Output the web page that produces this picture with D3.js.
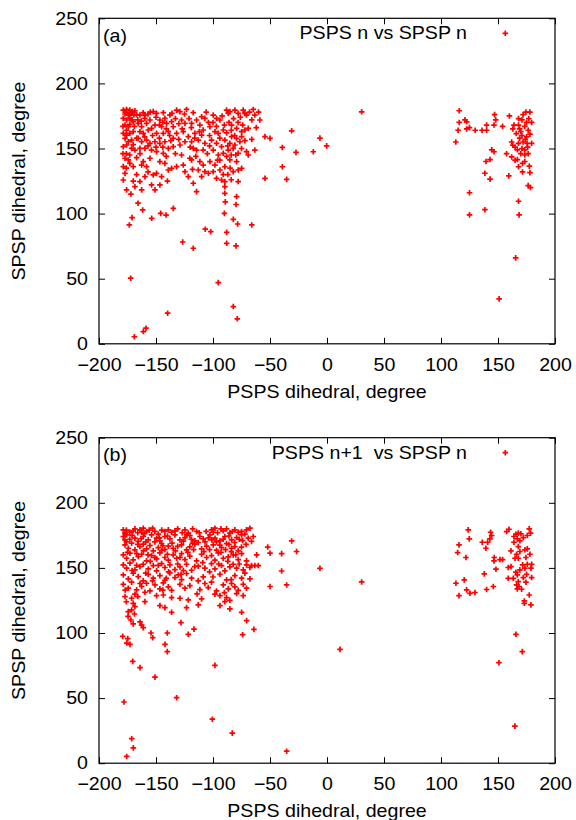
<!DOCTYPE html>
<html lang="en">
<head>
	<meta charset="utf-8">
	<title>PSPS vs SPSP dihedral</title>
	<script src="https://d3js.org/d3.v7.min.js"></script>
	<style>
		body { margin: 0; background: #fff; }
	</style>
</head>
<body>
	<div id="chart"></div>
	<script>
		// tick values shared by both panels
		let xTicks = [-200, -150, -100, -50, 0, 50, 100, 150, 200];
		let yTicks = [0, 50, 100, 150, 200, 250];

		// panel (a): PSPS n vs SPSP n, [PSPS, SPSP] in degrees
		let seriesA = [
			[-178.7,179.5],[-175.8,180],[-172.9,179.5],[-170.5,178.3],[-168.5,179],[-177.2,176.5],[-174.3,175.7],[-171.4,177],[-169.4,175.7],
			[-178.7,173.1],[-175.8,171.9],[-172.9,173.1],[-170,170.6],[-177.2,168],[-174.3,166.7],[-178.7,161.6],[-175.8,160.3],[-172.9,161.6],
			[-170,162.9],[-177.2,157.8],[-174.3,155.2],[-171.4,156.5],[-178.7,151.4],[-175.8,152.7],[-171.4,150.1],[-168.5,148.8],[-177.2,142.5],
			[-174.3,141.2],[-178.7,136.1],[-172.9,138.6],[-177.2,130.9],[-178.7,125.8],[-175.8,118.2],[-170,136.1],
			[-164.1,175.7],[-161.2,177.5],[-159.7,173.1],[-165.6,169.3],[-162.6,166.7],[-158.3,169.3],[-155.3,171.9],[-164.1,162.9],[-161.2,161.6],
			[-156.8,164.2],[-153.9,165.5],[-165.6,157.8],[-162.6,155.2],[-158.3,156.5],[-155.3,154],[-164.1,150.1],[-159.7,150.1],[-153.9,148.8],
			[-161.2,139.9],[-158.3,136.1],[-162.6,137.3],[-155.3,142.5],[-159.7,128.4],[-164.1,124.6],[-162.6,118.2],[-168.5,120.7],
			[-152.4,178.3],[-149.5,177],[-143.6,177.5],[-146.6,171.9],[-142.2,173.1],[-150.9,168],[-145.1,166.7],[-140.7,169.3],[-149.5,161.6],
			[-143.6,161.6],[-139.2,162.9],[-150.9,155.2],[-146.6,154],[-142.2,155.2],[-149.5,147.6],[-143.6,146.3],[-139.2,150.1],[-146.6,139.9],
			[-142.2,138.6],[-139.2,133.5],[-149.5,130.9],[-152.4,129.7],[-145.1,128.4],[-153.9,122],[-150.9,118.2],[-146.6,122],
			[-137.8,175.7],[-136.3,170.6],[-131.9,179.5],[-129,178.3],[-123.2,180],[-134.9,166.7],[-127.6,171.9],[-124.6,169.3],[-131.9,161.6],
			[-134.9,157.8],[-126.1,162.9],[-124.6,155.2],[-121.7,159.1],[-134.9,151.4],[-129,152.7],[-127.6,145],[-136.3,134.8],[-131.9,136.1],
			[-126.1,137.3],[-120.3,142.5],[-118.8,141.2],[-124.6,132.2],[-121.7,128.4],[-117.3,123.3],
			[-117.3,177.5],[-114.4,171.9],[-118.8,169.3],[-110,174.4],[-107.1,173.1],[-111.5,168],[-108.6,164.2],[-115.9,161.6],[-110,160.3],
			[-118.8,155.2],[-112.9,156.5],[-107.1,154],[-117.3,150.1],[-114.4,148.8],[-108.6,148.8],[-111.5,139.9],[-108.6,137.3],[-112.9,133.5],
			[-107.1,132.2],[-110,128.4],[-114.4,116.9],
			[-99.8,175.7],[-96.9,173.1],[-93.9,171.9],[-102.7,166.7],[-98.3,162.9],[-95.4,161.6],[-91,164.2],[-101.3,156.5],[-96.9,154],
			[-92.5,151.4],[-89.6,156.5],[-99.8,148.8],[-95.4,145],[-91,146.3],[-102.7,139.9],[-98.3,137.3],[-93.9,133.5],[-89.6,136.1],
			[-99.8,132.2],[-96.9,127.1],[-92.5,125.8],[-89.6,124.6],
			[-88.1,179.5],[-86.6,177],[-85.2,178.3],[-80.8,179.5],[-77.9,177],[-73.5,179.5],[-70.6,175.7],[-64.7,180],[-63.3,175.7],[-58.9,171.9],
			[-83.7,168],[-79.3,165.5],[-74.9,162.9],[-72,164.2],[-69.1,165.5],[-83.7,159.1],[-79.3,157.8],[-74.9,159.1],[-85.2,154],[-80.8,152.7],
			[-76.4,155.2],[-86.6,148.8],[-82.3,150.1],[-77.9,146.3],[-70.6,147.6],[-69.1,145],[-63.3,148.8],[-85.2,141.2],[-79.3,139.9],
			[-74.9,134.8],[-77.9,133.5],[-82.3,132.2],[-89.6,120.7],[-89.6,115.6],[-79.3,113.1],[-77.9,124.6],
			// denser core of the left cluster
			[-176.5,178],[-173.5,176.5],[-171,172],[-167,176],[-179,167],[-176,164],[-173,168.5],[-169,167],[-166,172],[-163,171],
			[-160,175.5],[-157,176.5],[-155,178],[-150,174],[-147,168],[-144,170],[-141,165],[-138,160],[-136,177],[-133,173],
			[-130,169],[-127,165],[-125,176.5],[-121,173],[-119,166],[-116,158],[-112,163],[-106,178],[-104,170],[-103,160],
			[-100,170],[-97,167],[-94,158],[-92,175],[-90,168],[-88,162],[-87,152],[-86,170],[-84,164],[-82,173],
			[-81,160],[-78,170],[-76,174],[-74,168],[-72,177],[-68,178],[-66,172],[-62,166],[-60,178],[-176,146],
			[-173,145],[-170,153],[-167,158],[-167,143],[-164,146],[-160,159],[-157,152],[-153,160],[-150,151],[-147,158],
			[-144,151],[-141,144],[-137,156],[-133,146],[-130,157],[-120,151],[-115,144],[-105,146],[-103,152],[-94,141],
			[-88,144],[-84,145],[-80,145],[-75,150],[-72,156],[-66,157],[-85,135],[-87,130],[-84,126],[-91,130],
			[-96,141],[-104,131],[-118,134],[-140,125],[-157,132],[-167,130],[-176,135],[-179,146],[-172,115],[-170,125],
			// sparse lower points
			[-173.4,91.3],[-171,96.9],[-165.8,108],[-161.7,102.8],[-153.8,96.4],[-145.9,100.2],[-141.2,98.9],[-134.8,104],[-126.6,78.2],
			[-117.3,73.4],[-106.8,88],[-102,86.1],[-90,100.2],[-89.2,109],[-88,85.6],[-88,77.2],[-82.2,95.6],[-79.8,107],[-79.8,75.2],
			[-78.4,92],[-66,91.3],[-172.2,50.4],[-95.4,47],[-82.2,28.6],[-78.7,19.2],[-139.8,23.5],[-169,5.4],[-161.1,9.4],[-158.8,12],
			[-54.4,159.1],[-50,157.8],[-54.4,127.1],[-39.2,150.8],[-31,163.6],[-27.2,147],[-39.2,136],[-35.4,126.3],[-12,147.5],[-6.2,158],
			[-0.3,152],[30.4,178.2],
			// right cluster
			[116,179],[116,170],[115,164],[113,155],[121,172],[122.5,170.5],[122.5,165],[125,166],[130,164],[136,164],[140,164],[140,168],
			[147,176],[148,172],[146.5,168],[154,167],[160,175],[163,165],[164,168],[168,173],[171,172],[174.5,178],[178,178],[177,173],
			[179.5,170],[168,168],[169,165],[173.5,167],[176.5,164],[166,161.5],[171,160],[175,159],[162,155],[163,152.5],[168,154],[172,155],
			[175.5,154],[179.5,154],[167,149],[171,150],[173.5,149],[176.5,146],[173.5,145],[157.5,146],[162,143.5],[165,141],[167,141.5],
			[171.5,138.5],[173.5,140],[177.5,136.5],[171.5,132],[178,131.5],[144.5,149],[146.5,147.5],[143,141.5],[139.5,140],[138.5,131],
			[143,126.5],[159.5,129],[176.5,121.5],[178.5,120],[125,116],[168,109.5],[138.5,103],[125,99],[168.5,99],[165.5,66],[151,34.5],
			[170,163],[174,157],[169,158],[178,161],[165,151],[176,151],[170,146],[168,136],[175,170],[172,176]
		];

		// panel (b): PSPS n+1 vs SPSP n
		let seriesB = [
			[-178.7,179.2],[-177.2,176.7],[-170,178.5],[-168.5,180],[-164.1,179.2],[-162.6,177.4],[-161.2,180.5],[-158.3,178],[-153,180.5],
			[-142.2,178],[-139.2,179.2],[-136.3,177.4],[-133.4,178.5],[-124.6,179.2],[-121.7,176.7],[-117.9,180],[-114.4,178],[-101.3,179.2],
			[-99.8,177.4],[-98.3,180.5],[-91,178.5],[-88.1,180],[-85.2,176.7],[-80.8,179.2],[-77.9,177.4],[-70.6,179.2],[-67.6,180.5],
			[-178.7,174.1],[-177.2,171.5],[-175.8,175.4],[-168.5,172.8],[-165.6,170.3],[-161.2,174.1],[-156.8,171.5],[-153.9,175.4],[-149.5,172.8],
			[-146.6,170.8],[-142.2,174.1],[-137.8,172.3],[-133.4,175.4],[-129,171.5],[-124.6,173.3],[-120.3,174.9],[-115.9,170.8],[-111.5,174.1],
			[-108.6,172.3],[-102.7,175.4],[-98.3,172.8],[-93.9,170.8],[-89.6,174.1],[-83.7,171.5],[-79.3,173.3],[-74.9,175.4],[-69.1,172.8],
			[-66.2,170.3],[-64.7,174.1],
			[-177.2,167.7],[-174.3,165.1],[-171.4,169],[-168.5,163.9],[-164.1,166.4],[-161.2,168.2],[-158.3,164.6],[-155.3,167.2],[-152.4,163.1],
			[-148,165.6],[-145.1,168.7],[-142.2,164.1],[-139.2,166.7],[-134.9,165.1],[-127.6,167.7],[-123.2,163.9],[-120.3,166.2],[-115.9,168.2],
			[-110,164.6],[-105.6,166.7],[-99.8,167.7],[-96.9,163.6],[-92.5,165.6],[-88.1,168.7],[-83.7,165.1],[-80.8,166.4],[-77.9,163.1],
			[-178.7,160],[-175.8,157.4],[-172.9,161.3],[-170,156.2],[-165.6,158.7],[-162.6,160.5],[-158.3,155.4],[-153.9,159.5],[-149.5,156.9],
			[-146.6,161.5],[-142.2,158],[-139.2,155.9],[-134.9,160],[-131.9,157.4],[-127.6,161],[-124.6,156.4],[-120.3,159],[-114.4,155.4],
			[-110,160.5],[-105.6,158],[-101.3,159.5],[-98.3,155.9],[-95.4,161.5],[-91,157.4],[-86.6,158.5],[-82.3,160],[-77.9,156.4],
			[-74.9,161],[-70.6,155.4],[-66.2,151.8],[-63.3,151.8],[-60.3,151.8],
			[-178.7,152.3],[-175.8,149.8],[-172.9,153.6],[-168.5,148.5],[-164.1,151],[-161.2,152.8],[-156.8,149.2],[-152.4,151.8],[-149.5,147.7],
			[-145.1,153.3],[-142.2,150.3],[-137.8,152.3],[-133.4,148.7],[-129,150.8],[-123.2,152.8],[-118.8,148.2],[-112.9,151.3],[-107.1,149.8],
			[-101.3,153.3],[-98.3,149.2],[-92.5,151.8],[-89.6,147.7],[-85.2,150.8],[-82.3,152.8],[-79.3,149.8],[-73.5,148.5],[-70.6,152.3],
			[-67.6,150.3],
			[-178.7,144.6],[-174.3,141.6],[-170,145.9],[-165.6,143.3],[-161.2,140],[-156.8,145.1],[-152.4,142.1],[-146.6,144.1],[-142.2,140.5],
			[-137.8,146.2],[-133.4,142.6],[-130.5,144.6],[-127.6,141],[-123.2,145.7],[-118.8,142.1],[-108.6,143.1],[-93.9,145.1],[-88.1,140.8],
			[-80.8,144.1],[-74.9,142.1],[-67.6,141.6],
			[-178.7,137.4],[-174.3,134.4],[-171.4,139],[-167,133.1],[-162.6,135.7],[-158.3,138.2],[-155.3,132.3],[-150.9,136.9],[-146.6,133.9],
			[-143.6,138.5],[-139.2,135.4],[-136.3,132.8],[-129,137.4],[-124.6,134.4],[-120.3,136.4],[-111.5,133.3],[-107.1,138],[-104.2,134.9],
			[-101.3,139],[-96.9,132.3],[-91,136.9],[-86.6,133.9],[-83.7,138],[-80.8,135.4],[-77.9,132.8],[-73.5,137.4],[-70.6,134.4],
			[-177.2,128],[-171.4,126.7],[-168.5,129.8],[-159.7,131.3],[-149.5,128.7],[-143.6,129.2],[-136.3,127.2],[-129,126.7],[-121.7,125.4],
			[-110,126.2],[-98.3,129.8],[-93.9,128.7],[-88.1,127.2],[-85.2,125.1],[-79.3,130.3],[-73.5,128.7],
			[-174.3,116.4],[-170,122.8],[-168.5,120.3],[-171.4,117.7],[-159.7,124.1],[-146.6,121],[-142.2,119.5],[-136.3,115.9],[-123.2,119.5],
			[-112.9,121.6],[-93.9,121],[-89.6,124.1],[-85.2,118.5],[-74.9,115.9],
			[-174.5,112.8],[-168.9,114.6],
			// denser core of the left cluster
			[-176,179],[-173,177.5],[-171,175],[-166,177],[-160,176.5],[-156,179],[-151,178],[-148,176],[-145,179],[-140,174.5],
			[-131,180],[-127,177],[-123,175.5],[-119,172],[-112,177],[-106,178],[-104,173],[-96,177],[-93,180],[-86,174.5],
			[-83,178],[-75,178],[-72,176],[-176,170],[-173,172],[-166,168],[-163,172.5],[-159,170],[-151,170],[-147,173],
			[-144,167],[-136,169],[-131,166.5],[-126,170.5],[-118,169],[-113,169.5],[-107,170],[-101,171.5],[-97,170],[-94,167.5],
			[-91,172],[-86,168],[-81,169.5],[-77,172],[-74,171],[-71,168],[-175,162],[-167,161],[-161,163],[-157,160],
			[-151,158],[-145,163.5],[-140,160.5],[-133,163],[-129,158],[-122,162],[-117,164],[-108,162.5],[-103,164],[-93,162],
			[-89,164],[-84,162.5],[-80,160],[-75,166],[-171,148],[-167,152],[-159,146],[-155,155],[-148,152],[-139,147],
			[-131,153],[-126,148],[-116,151],[-109,154],[-103,147],[-95,153],[-87,155],[-77,153],[-72,146],[-164,138],
			[-153,140],[-141,142],[-128,145],[-113,140],[-100,143],[-84,141],[-177,133],[-166,128],[-144,133],[-114,130],
			[-90,131],[-176,124],[-172,110],[-170,107],
			// sparse lower points
			[-179.2,97.4],[-174.8,95.7],[-175.7,92.3],[-172.8,91.3],[-170.4,78.2],[-164,73.4],[-164,108.5],[-162.6,106],[-161.2,104.1],
			[-154.4,100],[-152.9,96.4],[-150.9,66.1],[-142.1,91.3],[-140.1,100],[-140.1,85.7],[-128.1,108],[-121.7,99],[-116.7,103],
			[-131.9,50.3],[-178.1,47],[-171.3,18.8],[-169.9,11.8],[-175.7,5.2],[-98.3,75.1],[-100.6,33.8],[-83.1,23.1],[-35.4,9.2],
			[-74,98.7],[-70.5,109.5],[-64.1,102.8],
			[-61.7,160],[-52,166],[-50,161.3],[-39.8,161],[-31,170.7],[-26.7,162.6],[-39.8,147.6],[-6.2,149.7],[-50,135.7],[-35.4,136.9],
			[30.4,139.2],[11.4,87.4],
			// right cluster
			[123.9,179.2],[124.8,172.3],[115.8,167.7],[114.6,161.8],[121.9,158],[113.1,138.2],[120.4,140.8],[115.8,128.7],[122.5,133.1],
			[125.4,130.5],[129.8,131.1],[138,145.4],[140,133.4],[145.9,135.7],[136.2,169.7],[140.9,169.7],[142.9,172.3],[143.5,177.4],
			[144.4,174.9],[139.4,165.1],[146.7,158],[146.5,155.4],[151.7,156.4],[154,156.4],[148.2,149],[157.6,177.9],[159.6,179.7],
			[164,174.1],[165.7,175.9],[167.8,176.7],[170.1,176.2],[166.9,172.3],[164,169.7],[169.2,170.8],[172.2,173.3],[177.4,180],
			[178.6,176.7],[175.7,174.9],[167.8,166.4],[161.4,163.1],[169.2,162.6],[173.6,163.9],[175.7,164.6],[178,160.5],[166.3,160.5],
			[164.9,157.4],[167.8,157.4],[174.5,158],[171.6,152.3],[175.7,152.8],[179.5,152.8],[173.6,149.8],[178.9,149.8],[159,150.3],
			[161.4,151],[169.2,148.5],[165.7,146.7],[166.9,144.6],[175.1,145.1],[172.2,142.6],[179.5,142.6],[159,142],[163.4,142],
			[167.8,139.5],[174.5,139],[166.3,136.9],[168.4,135.7],[170.7,133.6],[166.9,133.9],[177.4,129.2],[173.1,124.6],[173.1,122.8],
			[178.9,121.6],[165.7,99],[171.3,85.7],[150.8,77.2],[164.8,28.5]
		];

		let panels = [
			{ data: seriesA, top: 18.3, tag: "(a)", legend: "PSPS n vs SPSP n" },
			{ data: seriesB, top: 437.7, tag: "(b)", legend: "PSPS n+1\u00a0 vs SPSP n" }
		];

		let width = 576;
		let height = 820;
		let plotLeft = 99;
		let plotRight = 555;
		let plotHeight = 325.5;
		let font = "'Liberation Sans', Arial, Helvetica, sans-serif";
		let fontSize = 18;
		let stretch = 1.09; // the reference lettering runs a bit wider than Arial

		let svg = d3.select("#chart")
			.append("svg")
			.attr("width", width)
			.attr("height", height)
			.style("font-family", font);

		function plusPath(s) {
			return "M" + (-s) + ",0H" + s + "M0," + (-s) + "V" + s;
		}

		function label(x, y, str, anchor, rotate) {
			return svg.append("text")
				.attr("transform", "translate(" + x + "," + y + ")" + (rotate ? " rotate(" + rotate + ")" : "") + " scale(" + stretch + ",1)")
				.attr("text-anchor", anchor)
				.attr("font-size", fontSize)
				.attr("fill", "#000")
				.text(str);
		}

		function drawPanel(p) {
			let bottom = p.top + plotHeight;
			let x = d3.scaleLinear().domain([-200, 200]).range([plotLeft, plotRight]);
			let y = d3.scaleLinear().domain([0, 250]).range([bottom, p.top]);

			// bottom axis with labels, ticks pointing inward
			let gx = svg.append("g")
				.attr("transform", "translate(0," + bottom + ")")
				.call(d3.axisBottom(x).tickValues(xTicks).tickSizeInner(-6).tickSizeOuter(0).tickPadding(14));
			// top mirror ticks
			let gxt = svg.append("g")
				.attr("transform", "translate(0," + p.top + ")")
				.call(d3.axisTop(x).tickValues(xTicks).tickSizeInner(-6).tickSizeOuter(0).tickFormat(""));
			// left axis with labels
			let gy = svg.append("g")
				.attr("transform", "translate(" + plotLeft + ",0)")
				.call(d3.axisLeft(y).tickValues(yTicks).tickSizeInner(-6).tickSizeOuter(0).tickPadding(11 / stretch));
			// right mirror ticks
			let gyr = svg.append("g")
				.attr("transform", "translate(" + plotRight + ",0)")
				.call(d3.axisRight(y).tickValues(yTicks).tickSizeInner(-6).tickSizeOuter(0).tickFormat(""));

			[gx, gxt, gy, gyr].forEach(g => {
				g.select(".domain").remove();
				g.attr("font-family", font).attr("font-size", fontSize);
				g.selectAll(".tick line").attr("stroke", "#000").attr("stroke-width", 1);
				g.selectAll(".tick text").attr("fill", "#000").attr("transform", "scale(" + stretch + ",1)");
			});

			// frame
			svg.append("rect")
				.attr("x", plotLeft)
				.attr("y", p.top)
				.attr("width", plotRight - plotLeft)
				.attr("height", plotHeight)
				.attr("fill", "none")
				.attr("stroke", "#000")
				.attr("stroke-width", 1.2);

			// points
			svg.append("g")
				.selectAll("path")
				.data(p.data)
				.enter()
				.append("path")
				.attr("transform", d => "translate(" + x(d[0]) + "," + y(d[1]) + ")")
				.attr("d", plusPath(2.8))
				.attr("stroke", "#ff0000")
				.attr("stroke-width", 1.7)
				.attr("fill", "none");

			// panel tag
			label(plotLeft + 4, p.top + 23.5, p.tag, "start");

			// legend
			label(467, p.top + 21, p.legend, "end");
			svg.append("path")
				.attr("transform", "translate(505.3," + (p.top + 15) + ")")
				.attr("d", plusPath(2.8))
				.attr("stroke", "#ff0000")
				.attr("stroke-width", 1.7)
				.attr("fill", "none");

			// axis titles
			label((plotLeft + plotRight) / 2, bottom + 54, "PSPS dihedral, degree", "middle");
			label(25, (p.top + bottom) / 2, "SPSP dihedral, degree", "middle", -90);
		}

		panels.forEach(drawPanel);
	</script>
</body>
</html>
